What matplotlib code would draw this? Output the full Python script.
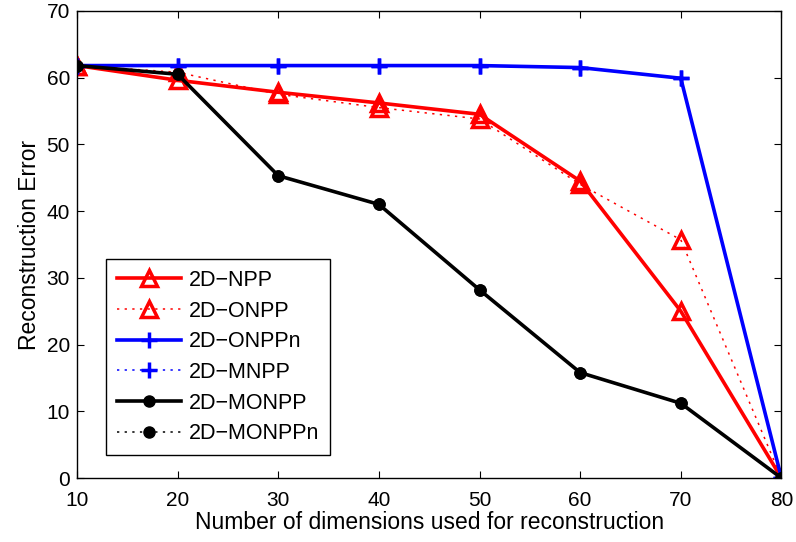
import numpy as np
import matplotlib.pyplot as plt

plt.rcParams['font.family'] = ['Liberation Sans', 'DejaVu Sans']

dims = [10, 20, 30, 40, 50, 60, 70, 80]
npp = [61.8, 59.6, 57.8, 56.2, 54.5, 44.5, 25.0, 0]
onpp = [61.8, 60.8, 57.5, 55.5, 53.8, 44.0, 35.7, 0]
onppn = [61.8, 61.8, 61.8, 61.8, 61.8, 61.5, 59.9, 0]
mnpp = [61.8, 61.8, 61.8, 61.8, 61.8, 61.5, 59.9, 0]
monpp = [61.8, 60.5, 45.3, 41.0, 28.2, 15.8, 11.2, 0]
monppn = [61.8, 60.5, 45.3, 41.0, 28.2, 15.8, 11.2, 0]

dot = (0, (1.5, 3.5))

fig = plt.figure(figsize=(7.96, 5.42), dpi=100)
ax = fig.add_axes([0.0967, 0.118, 0.885, 0.862])

ax.plot(dims, npp, '-', color='red', lw=2.6, marker='^', ms=11, mfc='none', mew=2.5, label='2D\u2212NPP')
ax.plot(dims, onpp, linestyle=dot, color='red', lw=1.1, marker='^', ms=11, mfc='none', mew=2.5, label='2D\u2212ONPP')
ax.plot(dims, onppn, '-', color='blue', lw=2.6, marker='+', ms=11, mew=2.5, label='2D\u2212ONPPn')
ax.plot(dims, mnpp, linestyle=dot, color='blue', lw=1.1, marker='+', ms=11, mew=2.5, label='2D\u2212MNPP')
ax.plot(dims, monpp, '-', color='black', lw=2.6, marker='o', ms=8, mfc='black', label='2D\u2212MONPP')
ax.plot(dims, monppn, linestyle=dot, color='black', lw=1.1, marker='o', ms=8, mfc='black', label='2D\u2212MONPPn')

ax.set_xlim(10, 80)
ax.set_ylim(0, 70)
ax.set_xticks(range(10, 81, 10))
ax.set_yticks(range(0, 71, 10))
ax.tick_params(direction='in', top=True, right=True, labelsize=15, length=5)
ax.tick_params(axis='x', pad=9)
ax.tick_params(axis='y', pad=5)
ax.set_xlabel('Number of dimensions used for reconstruction', fontsize=16.5, labelpad=1)
ax.set_ylabel('Reconstruction Error', fontsize=16.5, labelpad=4)
for s in ax.spines.values():
    s.set_linewidth(1)

leg = ax.legend(loc='lower left', bbox_to_anchor=(0.041, 0.049), borderaxespad=0, fontsize=15.5,
                fancybox=False, edgecolor='black', framealpha=1, handlelength=3.0,
                handletextpad=0.35, labelspacing=0.45, borderpad=0.5)
leg.get_frame().set_linewidth(1)

fig.savefig('out.png', dpi=100)
